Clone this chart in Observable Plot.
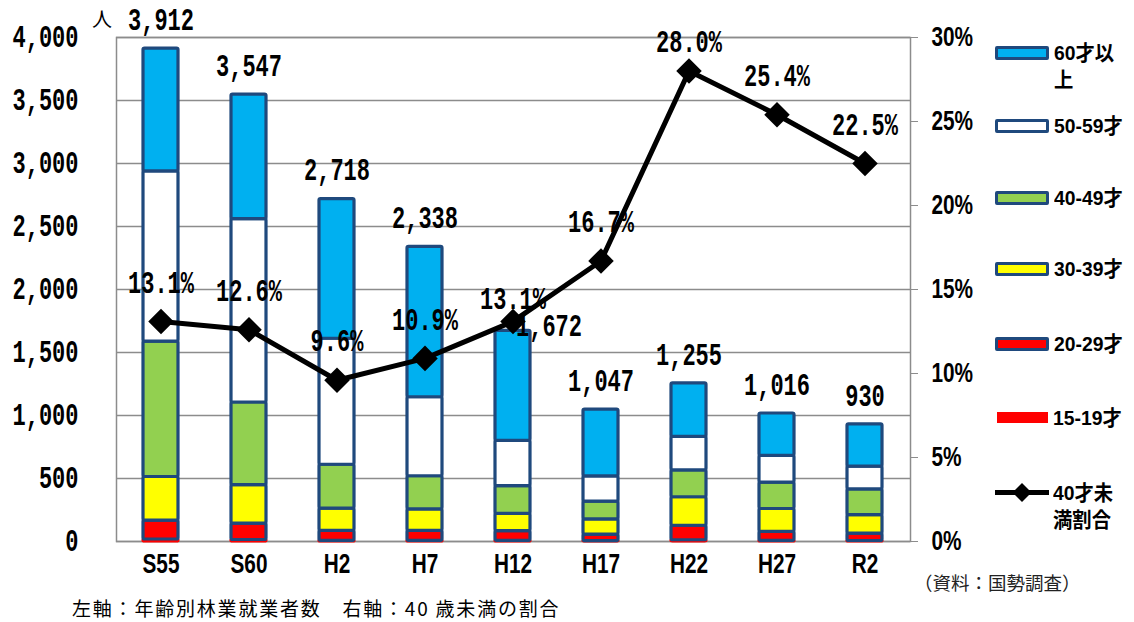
<!DOCTYPE html>
<html><head><meta charset="utf-8">
<script src="https://cdn.jsdelivr.net/npm/d3@7"></script>
<script src="https://cdn.jsdelivr.net/npm/@observablehq/plot@0.6"></script>
<style>
body{margin:0;background:#fff;}
#wrap{position:relative;width:1134px;height:622px;overflow:hidden;background:#fff;}
#chart{position:absolute;left:0;top:0;}
#unit{position:absolute;left:92px;top:4px;font:20px "Noto Sans CJK JP",sans-serif;color:#000;}
#legend{position:absolute;left:995px;top:0;width:139px;}
.li{position:absolute;left:0;display:flex;align-items:flex-start;color:#000;}
.lt{font-family:"Liberation Sans","Noto Sans CJK JP",sans-serif;font-weight:bold;font-size:21px;line-height:27px;white-space:pre;display:inline-block;transform:scaleX(0.92);transform-origin:0 50%;}
.sw{width:48px;height:8px;border:3px solid #1F497D;border-radius:2px;margin-top:7px;margin-right:5px;flex:none;}
#src{position:absolute;left:914px;top:569px;font:18.5px "Noto Sans CJK JP",sans-serif;color:#222;}
#note{position:absolute;left:72px;top:594px;font:19px "Noto Sans CJK JP",sans-serif;letter-spacing:1.8px;color:#000;}
</style></head><body><div id="wrap"><div id="chart"></div>
<div id="unit">人</div>
<div id="legend"></div>
<div id="src">（資料：国勢調査）</div>
<div id="note">左軸：年齢別林業就業者数　右軸：40 歳未満の割合</div>
</div>
<script>
const years = ["S55","S60","H2","H7","H12","H17","H22","H27","R2"];
const ageGroups = ["15-19才","20-29才","30-39才","40-49才","50-59才","60才以上"];
const age15_19  = [16, 12, 5, 5, 5, 3, 10, 5, 4];
const age20_29  = [150, 130, 80, 80, 78, 52, 115, 72, 58];
const age30_39  = [346, 305, 176, 170, 136, 120, 226, 181, 147];
const age40_49  = [1075, 656, 348, 263, 220, 141, 214, 210, 205];
const age50_59  = [1350, 1455, 1000, 627, 360, 201, 265, 212, 180];
const age60plus = [975, 989, 1109, 1193, 873, 530, 425, 336, 336];
const totals    = [3912, 3547, 2718, 2338, 1672, 1047, 1255, 1016, 930];
const under40Pct = [13.1, 12.6, 9.6, 10.9, 13.1, 16.7, 28.0, 25.4, 22.5];
const leftTicks  = [0, 500, 1000, 1500, 2000, 2500, 3000, 3500, 4000];
const rightTicks = [0, 5, 10, 15, 20, 25, 30];
const legendLabels = ["60才以\n上","50-59才","40-49才","30-39才","20-29才","15-19才","40才未\n満割合"];

const groupColors = {"15-19才":"#FF0000","20-29才":"#FF0000","30-39才":"#FFFF00","40-49才":"#92D050","50-59才":"#FFFFFF","60才以上":"#00B0F0"};
const edge = "#1F497D";
const series = [age15_19, age20_29, age30_39, age40_49, age50_59, age60plus];

const segs = [];
years.forEach((yr, i) => {
  let base = 0;
  ageGroups.forEach((g, k) => {
    const v = series[k][i];
    segs.push({year: yr, group: g, y1: base, y2: base + v});
    base += v;
  });
});
const rows = years.map((yr, i) => ({year: yr, total: totals[i], pct: under40Pct[i], pctL: under40Pct[i] / 30 * 4000}));
const fmt = d3.format(",");
const pctFmt = d => d.pct.toFixed(1) + "%";

const mono = '"Liberation Mono","DejaVu Sans Mono",monospace';
const sans = '"Liberation Sans",Arial,sans-serif';
const monoText = {fontSize: 22, fontFamily: mono, fontWeight: "bold", fill: "#000"};

const plot = Plot.plot({
  width: 1134, height: 622,
  marginLeft: 116, marginRight: 224, marginTop: 37, marginBottom: 81,
  x: {type: "band", domain: years, paddingInner: 0.6, paddingOuter: 0.3, label: null},
  y: {domain: [0, 4000], label: null},
  marks: [
    Plot.ruleY(leftTicks, {stroke: "#8c8c8c", strokeWidth: 1.5}),
    Plot.frame({stroke: "#8c8c8c", strokeWidth: 1.5}),
    Plot.barY(segs, {x: "year", y1: "y1", y2: "y2",
      fill: d => groupColors[d.group],
      stroke: d => d.group === "15-19才" ? "#FF0000" : edge,
      strokeWidth: 3.2, rx: 1.5}),
    Plot.axisX({tickSize: 0, tickPadding: 13, fontSize: 26, fontFamily: sans, fontWeight: "bold", fill: "#000"}),
    Plot.axisY(leftTicks, {anchor: "left", tickSize: 0, tickPadding: 38, tickFormat: fmt, ...monoText}),
    Plot.axisY(rightTicks.map(p => p / 30 * 4000), {anchor: "right", tickSize: 7, tickPadding: 14, stroke: "#8c8c8c",
      tickFormat: d => Math.round(d * 30 / 4000) + "%", fontSize: 26, fontFamily: sans, fontWeight: "bold", fill: "#000"}),
    Plot.line(rows, {x: "year", y: "pctL", stroke: "#000", strokeWidth: 5}),
    Plot.dot(rows, {x: "year", y: "pctL", symbol: "diamond2", r: 11.5, fill: "#000"}),
    // totals above bars
    Plot.text(rows.filter(d => d.year !== "H12"), {x: "year", y: "total", text: d => fmt(d.total), dy: -28, ...monoText}),
    Plot.text(rows.filter(d => d.year === "H12"), {x: "year", y: "total", text: d => fmt(d.total), dx: 36, dy: -4, ...monoText}),
    // ratio labels
    Plot.text(rows.filter(d => d.year !== "H12" && d.year !== "H22"), {x: "year", y: "pctL", text: pctFmt, dy: -38, ...monoText}),
    Plot.text(rows.filter(d => d.year === "H12"), {x: "year", y: "pctL", text: pctFmt, dy: -22, ...monoText}),
    Plot.text(rows.filter(d => d.year === "H22"), {x: "year", y: "pctL", text: pctFmt, dy: -28, ...monoText})
  ]
});
document.getElementById("chart").appendChild(plot);

// stretch glyphs to mimic the condensed/tall fonts of the original
function stretch(el, sx, sy) {
  const b = el.getBBox();
  const anchor = getComputedStyle(el).textAnchor;
  const cx = anchor === "end" ? b.x + b.width : anchor === "start" ? b.x : b.x + b.width / 2;
  const cy = b.y + b.height / 2;
  const old = el.getAttribute("transform") || "";
  el.setAttribute("transform", `${old} translate(${cx},${cy}) scale(${sx},${sy}) translate(${-cx},${-cy})`);
}
const svg = plot.tagName.toLowerCase() === "svg" ? plot : plot.querySelector("svg");
svg.querySelectorAll("text").forEach(el => {
  const t = el.textContent;
  if (/^[SHR]\d+$/.test(t)) stretch(el, 0.8, 1.05);           // category labels
  else if (/^\d+%$/.test(t)) stretch(el, 0.8, 1.05);          // right axis ticks
  else if (/^[\d,.]+%?$/.test(t)) stretch(el, 1, 1.4);        // counts, left ticks, ratios
});

// legend
const legendTops = [39, 112, 184, 255, 330, 404, 479];
const lg = document.getElementById("legend");
legendLabels.forEach((lab, i) => {
  const div = document.createElement("div");
  div.className = "li";
  div.style.top = legendTops[i] + "px";
  let sw;
  if (i < 5) {
    sw = `<div class="sw" style="background:${groupColors[ageGroups[5 - i]]}"></div>`;
  } else if (i === 5) {
    sw = `<div class="sw" style="background:#FF0000;border-width:0;height:11px;margin-top:8px;margin-left:2px;width:51px;border-radius:0"></div>`;
  } else {
    sw = `<svg width="56" height="27" style="flex:none;margin-right:2px"><line x1="0" x2="54" y1="13.5" y2="13.5" stroke="#000" stroke-width="5"/><path d="M27 4 L36.5 13.5 L27 23 L17.5 13.5 Z" fill="#000"/></svg>`;
  }
  div.innerHTML = sw + `<span class="lt">${lab}</span>`;
  lg.appendChild(div);
});
</script>
</body></html>
